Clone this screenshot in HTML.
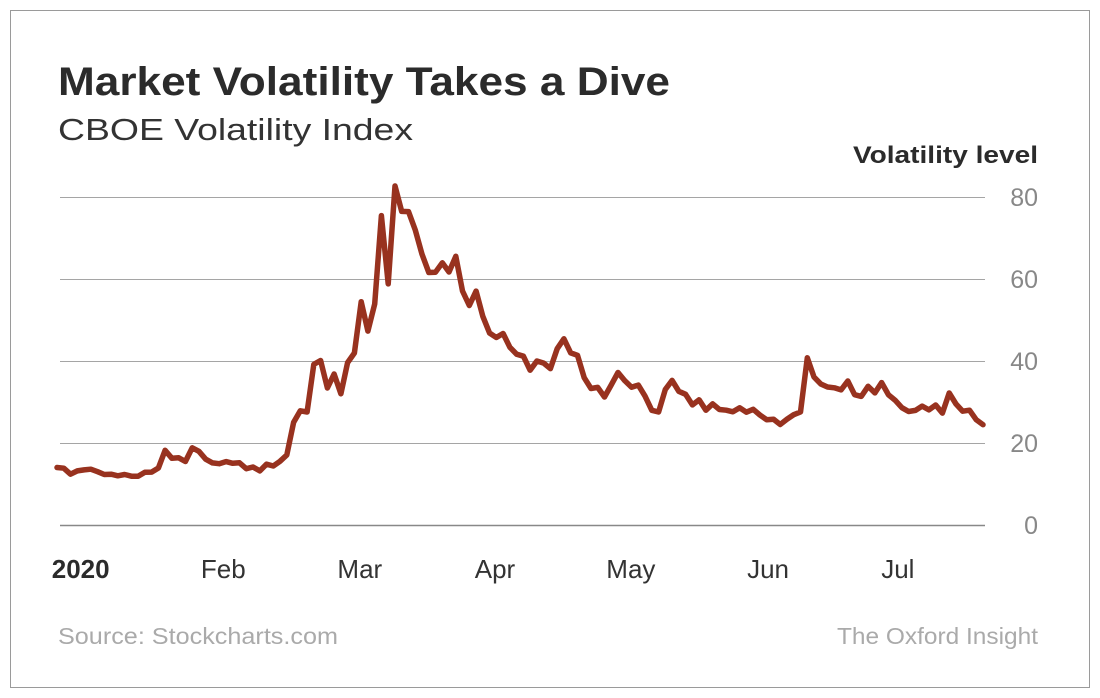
<!DOCTYPE html>
<html><head><meta charset="utf-8"><style>
html,body{margin:0;padding:0;background:#fff;}
svg{display:block;font-family:"Liberation Sans",Arial,sans-serif;}
</style></head><body>
<svg id="chart" width="1100" height="698" viewBox="0 0 1100 698">
<rect x="10.5" y="10.5" width="1079" height="677" fill="#fff" stroke="#9a9a9a" stroke-width="1"/>
<text x="58" y="95" font-size="40" font-weight="bold" fill="#2b2b2b" textLength="612" lengthAdjust="spacingAndGlyphs">Market Volatility Takes a Dive</text>
<text x="58" y="140" font-size="31" fill="#333" textLength="355" lengthAdjust="spacingAndGlyphs">CBOE Volatility Index</text>
<text x="1038" y="163" font-size="24" font-weight="bold" fill="#2b2b2b" text-anchor="end" textLength="185" lengthAdjust="spacingAndGlyphs">Volatility level</text>
<g id="grid"></g>
<g id="yticks"></g>
<g id="xticks"></g>
<path id="line" fill="none" stroke="#98321f" stroke-width="5.5" stroke-linejoin="round" stroke-linecap="round"/>
<text x="58" y="644" font-size="23" fill="#aaa" textLength="280" lengthAdjust="spacingAndGlyphs">Source: Stockcharts.com</text>
<text x="1038" y="644" font-size="23" fill="#aaa" text-anchor="end" textLength="201" lengthAdjust="spacingAndGlyphs">The Oxford Insight</text>
</svg>
<script>
const vixValues = [14.02,13.85,12.4,13.2,13.45,13.6,13.0,12.32,12.39,12.0,12.32,11.9,11.9,12.85,12.91,13.9,18.23,16.28,16.39,15.49,18.84,
17.97,16.05,15.15,14.96,15.47,15.04,15.18,13.74,14.15,13.2,14.83,14.38,15.56,17.08,25.03,27.85,27.56,39.16,40.11,
33.42,36.82,31.99,39.62,41.94,54.46,47.30,53.90,75.47,58.8,82.69,76.5,76.45,72.00,66.04,61.59,61.67,63.95,61.70,65.54,57.08,53.54,
57.06,50.91,46.80,45.74,46.70,43.35,41.67,41.17,37.76,40.0,39.5,38.15,43.0,45.41,41.98,41.38,35.93,33.29,33.57,31.23,34.15,
37.19,35.2,33.61,34.12,31.44,27.98,27.57,33.04,35.28,32.61,31.89,29.30,30.53,27.99,29.53,28.16,28.01,27.62,28.59,27.51,
28.23,26.84,25.66,25.81,24.52,25.81,26.9,27.57,40.79,36.09,34.40,33.67,33.47,32.94,35.12,31.77,31.37,33.84,32.22,34.73,31.78,30.43,
28.62,27.68,27.94,29.0,28.08,29.26,27.29,32.19,29.52,27.76,28.00,25.68,24.46];
const yTicks = [0,20,40,60,80];
const monthLabels = ["2020","Feb","Mar","Apr","May","Jun","Jul"];
const monthStartIdx = [3.5,24.6,44.8,64.8,84.9,105.2,124.4];

const svgNS="http://www.w3.org/2000/svg";
const X0=57,X1=983,Y0=525,Y80=197;
function xScale(i){return X0+(X1-X0)*i/(vixValues.length-1);}
function yScale(v){return Y0+(Y80-Y0)*v/80;}
const grid=document.getElementById('grid'),yt=document.getElementById('yticks'),xt=document.getElementById('xticks');
yTicks.forEach(t=>{
  const l=document.createElementNS(svgNS,'line');
  l.setAttribute('x1',60);l.setAttribute('x2',985);
  l.setAttribute('y1',yScale(t)+0.5);l.setAttribute('y2',yScale(t)+0.5);
  l.setAttribute('stroke',t===0?'#888':'#a5a5a5');l.setAttribute('stroke-width',t===0?1.5:1);
  
  
  grid.appendChild(l);
  const tx=document.createElementNS(svgNS,'text');
  tx.setAttribute('x',1038);tx.setAttribute('y',yScale(t)+9);
  tx.setAttribute('text-anchor','end');tx.setAttribute('font-size','25');tx.setAttribute('fill','#888');
  tx.textContent=t;
  
  
  yt.appendChild(tx);
});
monthLabels.forEach((m,k)=>{
  const tx=document.createElementNS(svgNS,'text');
  tx.setAttribute('x',xScale(monthStartIdx[k]));tx.setAttribute('y',578);
  tx.setAttribute('text-anchor','middle');tx.setAttribute('font-size','26');
  tx.setAttribute('fill',k===0?'#2b2b2b':'#333');
  if(k===0)tx.setAttribute('font-weight','bold');
  tx.textContent=m;
  
  
  xt.appendChild(tx);
});
document.getElementById('line').setAttribute('d',vixValues.map((v,i)=>(i?'L':'M')+xScale(i).toFixed(1)+','+yScale(v).toFixed(1)).join(''));
</script>
</body></html>
